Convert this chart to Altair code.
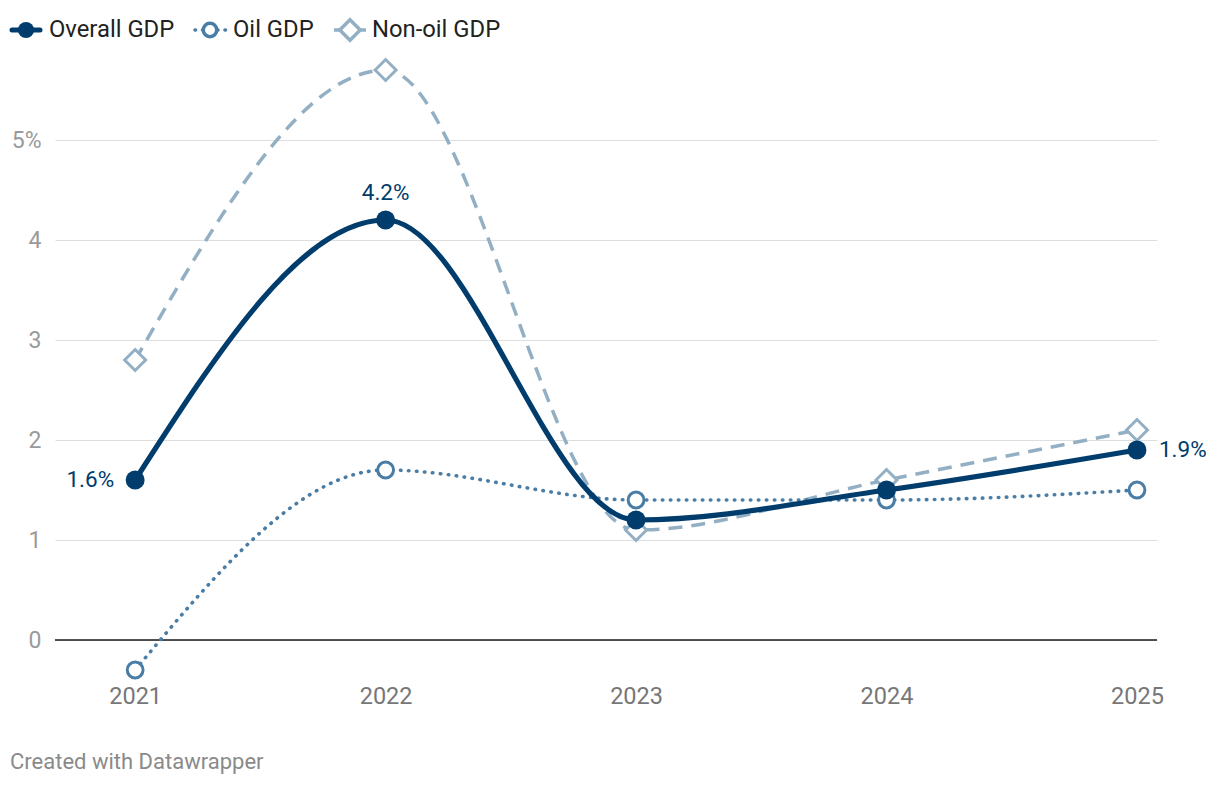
import altair as alt
import pandas as pd

# ---- data ----
years = [2021, 2022, 2023, 2024, 2025]
overall_gdp = [1.6, 4.2, 1.2, 1.5, 1.9]
oil_gdp = [-0.3, 1.7, 1.4, 1.4, 1.5]
nonoil_gdp = [2.8, 5.7, 1.1, 1.6, 2.1]
series_names = ["Overall GDP", "Oil GDP", "Non-oil GDP"]
y_ticks = [0, 1, 2, 3, 4, 5]
annot_years = [2021, 2022, 2025]
annot_values = [1.6, 4.2, 1.9]
annot_labels = ["1.6%", "4.2%", "1.9%"]

# ---- style ----
C_OVERALL = "#003c6c"
C_OIL = "#4a7da5"
C_NONOIL = "#93afc4"
FONT = "Roboto"
W, H = 1102, 600
X_DOMAIN = [2020.68, 2025.08]
Y_DOMAIN = [-0.3, 5.7]

df_overall = pd.DataFrame({"year": years, "value": overall_gdp})
df_oil = pd.DataFrame({"year": years, "value": oil_gdp})
df_nonoil = pd.DataFrame({"year": years, "value": nonoil_gdp})
df_annot = pd.DataFrame({"year": annot_years, "value": annot_values, "label": annot_labels})
df_zero = pd.DataFrame({"year": [2021], "value": [0]})

xs = alt.Scale(domain=X_DOMAIN, nice=False, zero=False)
ys = alt.Scale(domain=Y_DOMAIN, nice=False, zero=False)

x_axis = alt.Axis(values=years, format="d", grid=False, domain=False, ticks=False,
                  labelPadding=14, labelFontSize=23.5, labelColor="#777777",
                  labelFont=FONT, title=None)
y_axis = alt.Axis(values=y_ticks, grid=True, gridColor="#dedede", gridWidth=1,
                  domain=False, ticks=False, labelPadding=14, labelFontSize=23,
                  labelColor="#9a9a9a", labelFont=FONT, title=None,
                  labelExpr="datum.value == 5 ? '5%' : datum.label")

X = alt.X("year:Q", scale=xs, axis=x_axis)
Y = alt.Y("value:Q", scale=ys, axis=y_axis)

zero_rule = alt.Chart(df_zero).mark_rule(color="#1a1a1a", strokeWidth=1.6).encode(
    y=Y, x=alt.value(0), x2=alt.value(W))

nonoil_line = alt.Chart(df_nonoil).mark_line(
    color=C_NONOIL, strokeWidth=3.5, strokeDash=[14, 9], interpolate="monotone"
).encode(x=X, y=Y)
oil_line = alt.Chart(df_oil).mark_line(
    color=C_OIL, strokeWidth=3.6, strokeDash=[0.5, 7.5], strokeCap="round", interpolate="monotone"
).encode(x=X, y=Y)
overall_line = alt.Chart(df_overall).mark_line(
    color=C_OVERALL, strokeWidth=5.2, interpolate="monotone"
).encode(x=X, y=Y)

nonoil_pts = alt.Chart(df_nonoil).mark_point(
    shape="diamond", size=440, filled=True, fill="white", stroke=C_NONOIL, strokeWidth=3, opacity=1
).encode(x=X, y=Y)
oil_pts = alt.Chart(df_oil).mark_point(
    shape="circle", size=250, filled=True, fill="white", stroke=C_OIL, strokeWidth=3, opacity=1
).encode(x=X, y=Y)
overall_pts = alt.Chart(df_overall).mark_point(
    shape="circle", size=360, filled=True, color=C_OVERALL, opacity=1
).encode(x=X, y=Y)

annot_common = dict(font=FONT, fontSize=22.5, color=C_OVERALL, baseline="middle")
annot_left = alt.Chart(df_annot).transform_filter("datum.year == 2021").mark_text(
    align="right", dx=-21, **annot_common).encode(x=X, y=Y, text="label:N")
annot_top = alt.Chart(df_annot).transform_filter("datum.year == 2022").mark_text(
    align="center", dy=-27, **annot_common).encode(x=X, y=Y, text="label:N")
annot_right = alt.Chart(df_annot).transform_filter("datum.year == 2025").mark_text(
    align="left", dx=22, **annot_common).encode(x=X, y=Y, text="label:N")

# ---- manual legend (positions relative to plot origin) ----
one = alt.Data(values=[{}])
LY = -40
LFS = 23.8
legend_layers = []
# Overall GDP
legend_layers.append(alt.Chart(one).mark_rule(color=C_OVERALL, strokeWidth=5, strokeCap="round").encode(
    x=alt.value(-43), x2=alt.value(-15), y=alt.value(LY)))
legend_layers.append(alt.Chart(one).mark_point(shape="circle", size=260, filled=True, color=C_OVERALL, opacity=1).encode(
    x=alt.value(-29), y=alt.value(LY)))
legend_layers.append(alt.Chart(one).mark_text(align="left", baseline="middle", font=FONT, fontSize=LFS, color="#222222").encode(
    x=alt.value(-6), y=alt.value(LY), text=alt.value(series_names[0])))
# Oil GDP
legend_layers.append(alt.Chart(one).mark_rule(color=C_OIL, strokeWidth=3.6, strokeDash=[0.5, 7], strokeCap="round").encode(
    x=alt.value(140), x2=alt.value(172), y=alt.value(LY)))
legend_layers.append(alt.Chart(one).mark_point(shape="circle", size=180, filled=True, fill="white", stroke=C_OIL, strokeWidth=3.5, opacity=1).encode(
    x=alt.value(155), y=alt.value(LY)))
legend_layers.append(alt.Chart(one).mark_text(align="left", baseline="middle", font=FONT, fontSize=LFS, color="#222222").encode(
    x=alt.value(178), y=alt.value(LY), text=alt.value(series_names[1])))
# Non-oil GDP
legend_layers.append(alt.Chart(one).mark_rule(color=C_NONOIL, strokeWidth=3.5).encode(
    x=alt.value(279), x2=alt.value(311), y=alt.value(LY)))
legend_layers.append(alt.Chart(one).mark_point(shape="diamond", size=420, filled=True, fill="white", stroke=C_NONOIL, strokeWidth=3.5, opacity=1).encode(
    x=alt.value(295), y=alt.value(LY)))
legend_layers.append(alt.Chart(one).mark_text(align="left", baseline="middle", font=FONT, fontSize=LFS, color="#222222").encode(
    x=alt.value(317), y=alt.value(LY), text=alt.value(series_names[2])))

footer = alt.Chart(one).mark_text(align="left", baseline="middle", font=FONT, fontSize=22, color="#8a8a8a").encode(
    x=alt.value(-45), y=alt.value(692), text=alt.value("Created with Datawrapper"))

chart = alt.layer(
    zero_rule,
    nonoil_line, oil_line, overall_line,
    nonoil_pts, oil_pts, overall_pts,
    annot_left, annot_top, annot_right,
    *legend_layers, footer
).properties(
    width=W, height=H,
    autosize=alt.AutoSizeParams(type="none"),
    padding={"left": 55, "top": 70, "right": 63, "bottom": 116},
    background="white",
).configure_view(stroke=None)

chart.save("out.html", embed_options={"renderer": "svg", "actions": False})
